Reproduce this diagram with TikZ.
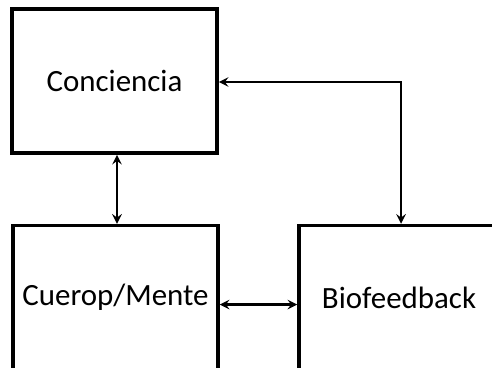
\documentclass[tikz,border=0pt]{standalone}
\usepackage{fontspec}
\setmainfont{Carlito}
\usetikzlibrary{positioning, arrows}
\tikzstyle{block} = [rectangle, minimum width=4.1cm, minimum height=2.88cm, text centered, draw=black, line width=2pt, font=\fontsize{17.6}{20}\selectfont]
\tikzstyle{arrow} = [line width=1.4pt,<->,>=stealth]

\begin{document}
\begin{tikzpicture}[node distance=1.5cm]

\clip (0,0) rectangle (9.84,-7.36);
\useasboundingbox (0,0) rectangle (9.84,-7.36);

\node (conc) [block] at (2.29,-1.62) {Conciencia};
\node (cuerpo) [block, below=1.38cm of conc, xshift=0.02cm] {Cuerop/Mente};
\node (bio) [block, right=1.55cm of cuerpo, minimum width=4.0cm] {Biofeedback};

\draw [arrow] ([xshift=0.05cm]conc.south) -- ([xshift=0.05cm]conc.south |- cuerpo.north);
\draw [arrow] ([yshift=-0.14cm]cuerpo.east) -- ([yshift=-0.14cm]bio.west);
\draw [arrow] ([yshift=-0.02cm]conc.east) -| ([xshift=0.04cm]bio.north);

\end{tikzpicture}
\end{document}
